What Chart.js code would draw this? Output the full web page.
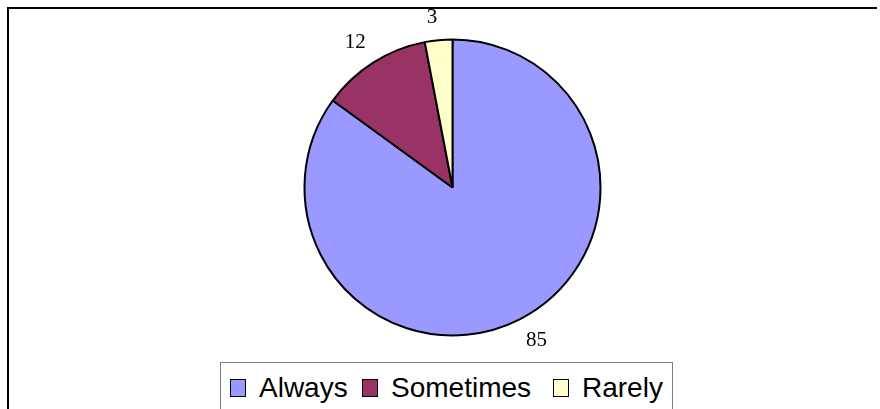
<!DOCTYPE html>
<html>
<head>
<meta charset="utf-8">
<script src="https://cdn.jsdelivr.net/npm/chart.js@4/dist/chart.umd.min.js"></script>
<style>
  html, body { margin: 0; padding: 0; background: #fff; }
  #wrap { position: relative; width: 880px; height: 409px; overflow: hidden; }
  #frame { position: absolute; left: 7px; top: 7px; width: 868px; height: 420px;
           border-top: 2px solid #000; border-left: 2px solid #000; }
  #pie { position: absolute; left: 0; top: 0; }
  #legend { position: absolute; left: 220px; top: 362px; width: 451px; height: 60px;
            border: 1px solid #7f7f7f; background: #fff;
            font-family: "Liberation Sans", Arial, sans-serif; font-size: 28px; color: #000; }
  .item { position: absolute; top: 10px; height: 30px; line-height: 30px; white-space: nowrap; }
  .sw { display: inline-block; width: 14px; height: 16px; border: 1.5px solid #000;
        vertical-align: middle; margin-right: 13px; position: relative; top: -2px; }
</style>
</head>
<body>
<div id="wrap">
  <div id="frame"></div>
  <canvas id="pie" width="880" height="409"></canvas>
  <div id="legend"></div>
</div>
<script>
// Survey answers and their share of responses
const categories = ["Always", "Sometimes", "Rarely"];
const values = [85, 12, 3];
const sliceColors = ["#9999FF", "#993366", "#FFFFCC"];
const legendOffsets = [9, 141, 332];

// Value labels placed just outside each slice
const outsideLabels = {
  id: "outsideLabels",
  afterDatasetsDraw(chart) {
    const ctx = chart.ctx;
    const meta = chart.getDatasetMeta(0);
    ctx.save();
    ctx.font = '21px "Liberation Serif", "Times New Roman", serif';
    ctx.fillStyle = "#000";
    ctx.textAlign = "center";
    ctx.textBaseline = "middle";
    meta.data.forEach((arc, i) => {
      const p = arc.getProps(["x", "y", "startAngle", "endAngle", "outerRadius"], true);
      const mid = (p.startAngle + p.endAngle) / 2;
      const r = p.outerRadius + 14;
      const ax = p.x + Math.cos(mid) * r;
      const ay = p.y + Math.sin(mid) * r;
      const text = String(chart.data.datasets[0].data[i]);
      const w = ctx.measureText(text).width;
      const h = 17;
      const tx = ax + Math.sign(Math.cos(mid)) * w / 2;
      const ty = ay + Math.sign(Math.sin(mid)) * h / 2;
      ctx.fillText(text, tx, ty);
    });
    ctx.restore();
  }
};

new Chart(document.getElementById("pie"), {
  type: "pie",
  data: {
    labels: categories,
    datasets: [{
      data: values,
      backgroundColor: sliceColors,
      borderColor: "#000",
      borderWidth: 2
    }]
  },
  options: {
    responsive: false,
    animation: false,
    layout: { padding: { left: 303.5, right: 278.5, top: 38.5, bottom: 72.5 } },
    plugins: { legend: { display: false }, tooltip: { enabled: false } }
  },
  plugins: [outsideLabels]
});

// Legend row
const legend = document.getElementById("legend");
categories.forEach((name, i) => {
  const item = document.createElement("div");
  item.className = "item";
  item.style.left = legendOffsets[i] + "px";
  const sw = document.createElement("span");
  sw.className = "sw";
  sw.style.background = sliceColors[i];
  item.appendChild(sw);
  item.appendChild(document.createTextNode(name));
  legend.appendChild(item);
});
</script>
</body>
</html>
